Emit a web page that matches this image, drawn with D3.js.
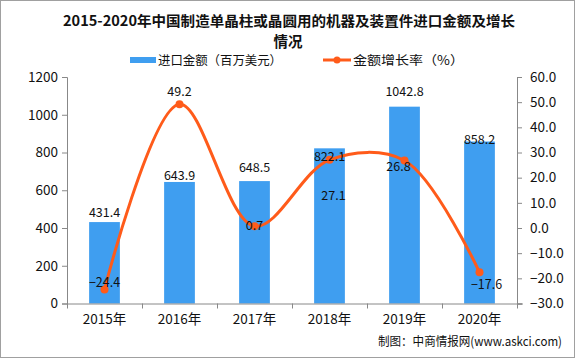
<!DOCTYPE html>
<html><head><meta charset="utf-8">
<script src="https://cdn.jsdelivr.net/npm/d3@7"></script>
<style>body{margin:0;background:#fff;}svg{display:block;}</style>
</head><body><svg id="c" width="576" height="359"></svg>
<script>
const categories = ["2015年","2016年","2017年","2018年","2019年","2020年"];
const importValues = [431.4, 643.9, 648.5, 822.1, 1042.8, 858.2];
const growthRates = [-24.4, 49.2, 0.7, 27.1, 26.8, -17.6];
const leftTicks = [0,200,400,600,800,1000,1200];
const rightTicks = [-30,-20,-10,0,10,20,30,40,50,60];

// label offsets (layout only)
const barLabelDy = [-10, -6, -14, 8, -15, -2];
const lineLabelD = [[0,-7],[0,-13],[0,-1],[4,36],[-6,6],[7,12]];

const svg = d3.select("#c");
const font = "'Noto Sans CJK SC', 'DejaVu Sans', sans-serif";
const L = 67, R = 517, T = 77, B = 303.5;

svg.append("rect").attr("x",0.5).attr("y",0.5).attr("width",574).attr("height",357)
  .attr("fill","#fff").attr("stroke","#a0a0a0");

const x = d3.scaleBand().domain(categories).range([L,R]).paddingInner(0.59).paddingOuter(0.295);
const xb = d3.scaleBand().domain(categories).range([L,R]);
const yL = d3.scaleLinear().domain([0,1200]).range([B,T]);
const yR = d3.scaleLinear().domain([-30,60]).range([B,T]);

// title
const title = svg.append("g").attr("font-family",font).attr("font-weight","bold").attr("font-size",14)
  .attr("text-anchor","middle").attr("fill","#111");
title.append("text").attr("x",289).attr("y",25.5).attr("textLength",452).attr("lengthAdjust","spacingAndGlyphs")
  .text("2015-2020年中国制造单晶柱或晶圆用的机器及装置件进口金额及增长");
title.append("text").attr("x",288).attr("y",46.5).attr("font-size",14.5).text("情况");

// legend
const lg = svg.append("g").attr("font-family",font).attr("font-size",12.5).attr("fill","#111");
lg.append("rect").attr("x",130).attr("y",57).attr("width",26).attr("height",6).attr("fill","#3F9EF0");
lg.append("text").attr("x",158).attr("y",64.5).attr("textLength",124).attr("lengthAdjust","spacingAndGlyphs").text("进口金额（百万美元）");
lg.append("line").attr("x1",323).attr("x2",351).attr("y1",60).attr("y2",60).attr("stroke","#FF5B1A").attr("stroke-width",3);
lg.append("circle").attr("cx",337).attr("cy",60).attr("r",3.5).attr("fill","#FF5B1A");
lg.append("text").attr("x",353).attr("y",64.5).attr("textLength",111).attr("lengthAdjust","spacingAndGlyphs").text("金额增长率（%）");

// bars
svg.append("g").selectAll("rect").data(importValues).join("rect")
  .attr("x",(d,i)=>x(categories[i])).attr("width",x.bandwidth())
  .attr("y",d=>yL(d)).attr("height",d=>B-yL(d)).attr("fill","#3F9EF0");

// axes
const axL = svg.append("g").attr("transform",`translate(${L},0)`)
  .call(d3.axisLeft(yL).tickValues(leftTicks).tickSize(5).tickPadding(4).tickFormat(d3.format("d")));
const axR = svg.append("g").attr("transform",`translate(${R},0)`)
  .call(d3.axisRight(yR).tickValues(rightTicks).tickSize(5).tickPadding(8).tickFormat(d3.format(".1f")));
const axB = svg.append("g").attr("transform",`translate(0,${B})`)
  .call(d3.axisBottom(xb).tickSize(0).tickPadding(11));
axB.select(".domain").attr("d",`M${L},0.5H${R+6}`);
axB.append("g").selectAll("line").data(d3.range(categories.length+1)).join("line")
  .attr("x1",i=>L+i*xb.step()+0.5).attr("x2",i=>L+i*xb.step()+0.5).attr("y1",0).attr("y2",5)
  .attr("stroke","#888");
[axL,axR,axB].forEach(a=>{
  a.selectAll(".domain").attr("stroke","#888");
  a.selectAll(".tick line").attr("stroke","#888");
  a.selectAll("text").attr("font-family",font).attr("font-size",13.5).attr("fill","#111");
});

// line
const pts = growthRates.map((d,i)=>[xb(categories[i])+xb.bandwidth()/2, yR(d)]);
svg.append("path").attr("d",d3.line().curve(d3.curveCatmullRom.alpha(0.5))(pts))
  .attr("fill","none").attr("stroke","#FF5B1A").attr("stroke-width",3);
svg.append("g").selectAll("circle").data(pts).join("circle")
  .attr("cx",d=>d[0]).attr("cy",d=>d[1]).attr("r",4).attr("fill","#FF5B1A");

// labels
const lab = svg.append("g").attr("font-family",font).attr("font-size",12.5).attr("fill","#111").attr("text-anchor","middle");
lab.selectAll("text.b").data(importValues).join("text").attr("class","b")
  .attr("x",(d,i)=>xb(categories[i])+xb.bandwidth()/2)
  .attr("y",(d,i)=>yL(d)+barLabelDy[i]+4.5)
  .text(d=>d3.format(".1f")(d));
lab.selectAll("text.l").data(growthRates).join("text").attr("class","l")
  .attr("x",(d,i)=>pts[i][0]+lineLabelD[i][0])
  .attr("y",(d,i)=>pts[i][1]+lineLabelD[i][1]+4.5)
  .text(d=>d3.format(".1f")(d));

// footer
svg.append("text").attr("x",562).attr("y",346).attr("text-anchor","end")
  .attr("font-family",font).attr("font-size",12.5).attr("fill","#111")
  .attr("textLength",184).attr("lengthAdjust","spacingAndGlyphs")
  .text("制图：中商情报网(www.askci.com)");
</script></body></html>
